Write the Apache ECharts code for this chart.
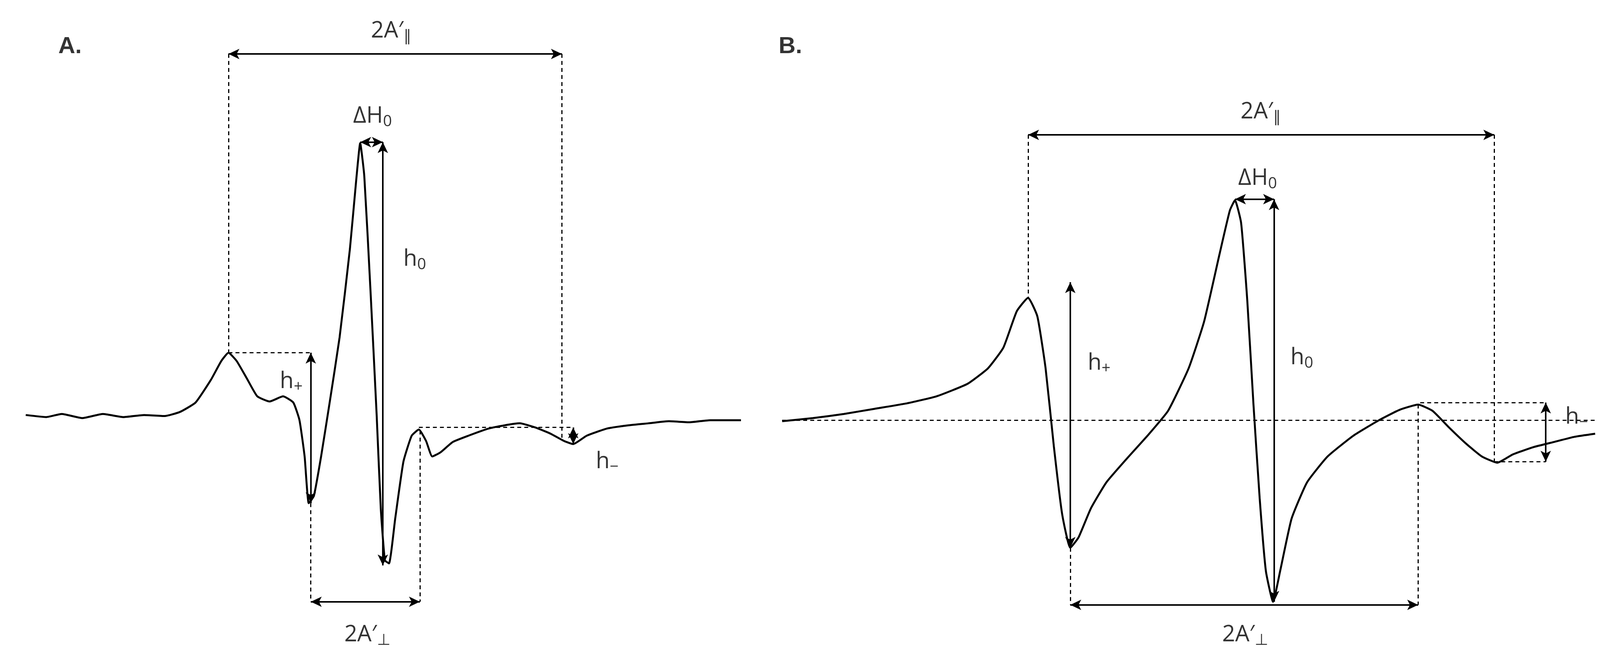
<!DOCTYPE html>
<html>
<head>
<meta charset="utf-8">
<script src="https://cdn.jsdelivr.net/npm/echarts@6/dist/echarts.min.js"></script>
<style>html,body{margin:0;padding:0;background:#fff}#chart{width:4131px;height:1699px}</style>
</head>
<body>
<div id="chart"></div>
<script>
// 坐标以参考图(1568x640)为单位，y 向下
var spectrumA = [[25,400],[45,402],[60,399],[80,403],[100,399],[120,402],[140,400],[160,401],[175,397],[190,388],[205,366],[215,348],[222,340],[230,348],[240,365],[250,382],[262,387],[275,382],[285,388],[291,405],[296,440],[300,485],[305,478],[312,440],[320,390],[330,325],[340,240],[346,175],[350,138],[354,170],[360,280],[366,400],[370,490],[374,540],[378,543],[384,500],[392,445],[400,420],[407,414],[414,425],[420,440],[428,436],[440,426],[455,420],[475,413],[490,410],[505,408],[520,412],[535,418],[548,425],[557,428],[570,420],[590,413],[610,410],[630,408],[650,406],[670,407],[690,405],[720,405]];
var spectrumB = [[760,406],[790,403],[820,399],[850,394],[880,389],[910,382],[940,370],[960,355],[975,335],[988,300],[999,287],[1008,305],[1016,355],[1024,430],[1032,495],[1040,528],[1048,518],[1060,490],[1075,465],[1095,442],[1115,420],[1135,396],[1155,355],[1170,310],[1185,245],[1195,203],[1200,193],[1206,215],[1212,290],[1218,390],[1224,480],[1230,550],[1237,580],[1244,550],[1255,500],[1270,465],[1290,440],[1315,420],[1340,405],[1360,395],[1378,390],[1392,396],[1408,412],[1425,428],[1440,440],[1455,446],[1470,438],[1490,431],[1510,426],[1530,421],[1550,418]];

// 注释: 双箭头 [x1,y1,x2,y2]
var arrowsA = [[222,52,546,52],[350,137,372,137],[372,137,372,545],[302,340,302,485],[557,412,557,428],[302,580,408,580]];
var dashesA = [[222,52,222,340],[546,52,546,425],[222,340,302,340],[407,412,557,412],[302,485,302,580],[408,415,408,580]];
var arrowsB = [[999,130,1452,130],[1200,192,1238,192],[1238,192,1238,580],[1040,272,1040,528],[1502,388,1502,445],[1040,583,1378,583]];
var dashesB = [[999,130,999,287],[1452,130,1452,445],[1380,388,1502,388],[1452,445,1502,445],[760,405,1550,405],[1040,528,1040,583],[1378,390,1378,583]];

// 文字: [x, y, 文本]
var labels = [
  [68,45,'{t|A.}'],[768,45,'{t|B.}'],
  [380,30,'{b|2A′}{s|∥}'],[362,112,'{b|ΔH}{s|0}'],[403,250,'{b|h}{s|0}'],[283,368,'{b|h}{s|+}'],[590,445,'{b|h}{s|−}'],[357,612,'{b|2A′}{s|⊥}'],
  [1225,108,'{b|2A′}{s|∥}'],[1222,172,'{b|ΔH}{s|0}'],[1265,345,'{b|h}{s|0}'],[1068,350,'{b|h}{s|+}'],[1532,402,'{b|h}{s|−}'],[1210,612,'{b|2A′}{s|⊥}']
];

var chart = echarts.init(document.getElementById('chart'));

function toLines(list) {
  return list.map(function (p) {
    return [{ coord: [p[0], p[1]] }, { coord: [p[2], p[3]] }];
  });
}
function marks(arrows, dashes) {
  return {
    silent: true,
    animation: false,
    label: { show: false },
    data: toLines(arrows).map(function (d) {
      d[0].symbol = 'arrow'; d[1].symbol = 'arrow';
      d[0].lineStyle = { type: 'solid', width: 4, color: '#000' };
      return d;
    }).concat(toLines(dashes).map(function (d) {
      d[0].symbol = 'none'; d[1].symbol = 'none';
      d[0].lineStyle = { type: [10, 8], width: 3, color: '#000' };
      return d;
    })),
    symbolSize: [20, 28]
  };
}

var option = {
  backgroundColor: '#fff',
  animation: false,
  grid: { left: 0, right: 0, top: 0, bottom: 0 },
  xAxis: { type: 'value', min: 0, max: 1568, show: false },
  yAxis: { type: 'value', min: 0, max: 640, inverse: true, show: false },
  series: [
    { type: 'line', data: spectrumA, showSymbol: false, smooth: 0.15, lineStyle: { color: '#000', width: 5 }, markLine: marks(arrowsA, dashesA) },
    { type: 'line', data: spectrumB, showSymbol: false, smooth: 0.15, lineStyle: { color: '#000', width: 5 }, markLine: marks(arrowsB, dashesB) },
    {
      type: 'scatter', symbolSize: 0, data: labels,
      label: {
        show: true, position: 'inside', color: '#000',
        formatter: function (p) { return p.data[2]; },
        rich: {
          t: { fontSize: 60, fontWeight: 'bold', fontFamily: 'Liberation Sans', color: '#000' },
          b: { fontSize: 58, fontFamily: 'Open Sans', color: '#000' },
          s: { fontSize: 40, fontFamily: 'Open Sans', color: '#000', padding: [28, 0, 0, 0] }
        }
      }
    }
  ]
};
chart.setOption(option);
</script>
</body>
</html>
